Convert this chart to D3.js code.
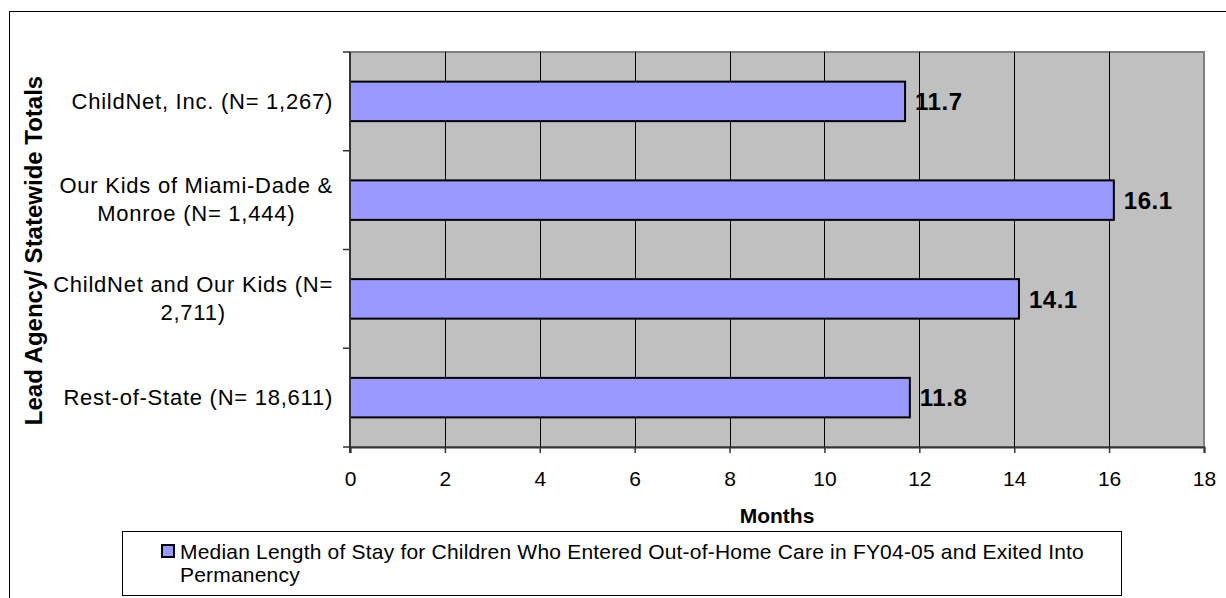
<!DOCTYPE html>
<html>
<head>
<meta charset="utf-8">
<script src="https://cdn.jsdelivr.net/npm/d3@7"></script>
<style>
  html, body { margin: 0; padding: 0; background: #fff; }
  svg { display: block; font-family: Arial, "Liberation Sans", sans-serif; }
</style>
</head>
<body>
<svg id="chart" width="1226" height="598"></svg>
<script>
// Median length of stay by lead agency
const categories = [
  "ChildNet, Inc. (N= 1,267)",
  "Our Kids of Miami-Dade & Monroe (N= 1,444)",
  "ChildNet and Our Kids (N= 2,711)",
  "Rest-of-State (N= 18,611)"
];
const medianMonths = [11.7, 16.1, 14.1, 11.8];
const xTicks = [0, 2, 4, 6, 8, 10, 12, 14, 16, 18];
const seriesName = "Median Length of Stay for Children Who Entered Out-of-Home Care in FY04-05 and Exited Into Permanency";
const xTitle = "Months";
const yTitle = "Lead Agency/ Statewide Totals";

const svg = d3.select("#chart");
const plot = { left: 350, right: 1204, top: 52, bottom: 447 };

// outer chart frame
svg.append("rect")
  .attr("x", 9.5).attr("y", 11.5)
  .attr("width", 1240).attr("height", 620)
  .attr("fill", "#fff").attr("stroke", "#000").attr("stroke-width", 1);

const x = d3.scaleLinear().domain([0, 18]).range([plot.left, plot.right]);
const y = d3.scaleBand().domain(categories)
  .range([plot.top, plot.bottom])
  .paddingInner(0.6).paddingOuter(0.3);

// plot background
svg.append("rect")
  .attr("x", plot.left).attr("y", plot.top)
  .attr("width", plot.right - plot.left).attr("height", plot.bottom - plot.top)
  .attr("fill", "#C0C0C0").attr("stroke", "#808080").attr("stroke-width", 2);

// vertical gridlines
svg.append("g")
  .selectAll("line")
  .data(xTicks.filter(d => d > 0 && d < 18))
  .join("line")
  .attr("x1", d => Math.round(x(d)) + 0.5).attr("x2", d => Math.round(x(d)) + 0.5)
  .attr("y1", plot.top).attr("y2", plot.bottom)
  .attr("stroke", "#000").attr("stroke-width", 1);

// bars
svg.append("g")
  .selectAll("rect")
  .data(categories)
  .join("rect")
  .attr("x", x(0))
  .attr("y", d => y(d))
  .attr("width", (d, i) => x(medianMonths[i]) - x(0))
  .attr("height", y.bandwidth())
  .attr("fill", "#9999FF")
  .attr("stroke", "#000")
  .attr("stroke-width", 2);

// value labels
svg.append("g")
  .selectAll("text")
  .data(categories)
  .join("text")
  .attr("x", (d, i) => x(medianMonths[i]) + 10)
  .attr("y", d => y(d) + y.bandwidth() / 2)
  .attr("dy", "0.36em")
  .attr("font-size", 24)
  .attr("font-weight", "bold")
  .attr("letter-spacing", 0.5)
  .attr("fill", "#000")
  .text((d, i) => medianMonths[i].toFixed(1));

// x axis
const xAxis = svg.append("g")
  .attr("transform", `translate(0,${plot.bottom})`)
  .call(d3.axisBottom(x).tickValues(xTicks).tickSize(6).tickPadding(18).tickFormat(d3.format("d")));
xAxis.select(".domain").attr("stroke", "#333").attr("stroke-width", 2);
xAxis.selectAll(".tick line").attr("stroke", "#333").attr("stroke-width", 1.5);
xAxis.selectAll("text").attr("font-size", 21).attr("fill", "#000")
  .attr("font-family", "Arial, 'Liberation Sans', sans-serif");

// y axis: ticks at category boundaries
const yAxisG = svg.append("g");
yAxisG.append("line")
  .attr("x1", plot.left).attr("x2", plot.left)
  .attr("y1", plot.top).attr("y2", plot.bottom + 6)
  .attr("stroke", "#333").attr("stroke-width", 2);
yAxisG.selectAll("line.tick")
  .data(d3.range(categories.length + 1))
  .join("line")
  .attr("class", "tick")
  .attr("x1", plot.left - 7).attr("x2", plot.left)
  .attr("y1", i => y.range()[0] + i * y.step())
  .attr("y2", i => y.range()[0] + i * y.step())
  .attr("stroke", "#333").attr("stroke-width", 1.5);

// wraps a string into lines no wider than maxW
function wrapLines(str, maxW, size, spacing, weight) {
  const probe = svg.append("text").attr("font-size", size)
    .attr("letter-spacing", spacing || 0).attr("font-weight", weight || "normal");
  const words = str.split(" ");
  const lines = [];
  let cur = "";
  for (const w of words) {
    const test = cur ? cur + " " + w : w;
    probe.text(test);
    if (probe.node().getComputedTextLength() > maxW && cur) {
      lines.push(cur);
      cur = w;
    } else cur = test;
  }
  if (cur) lines.push(cur);
  probe.remove();
  return lines;
}

// category labels, centered lines right-aligned as a block
const catSize = 22, catSpacing = 0.75, catLine = 28, catRight = 333;
categories.forEach(c => {
  const lines = wrapLines(c, 300, catSize, catSpacing);
  const probe = svg.append("text").attr("font-size", catSize).attr("letter-spacing", catSpacing);
  const widths = lines.map(l => { probe.text(l); return probe.node().getComputedTextLength(); });
  probe.remove();
  const blockW = d3.max(widths);
  const cx = catRight - blockW / 2;
  const cy = y(c) + y.bandwidth() / 2;
  const t = svg.append("text")
    .attr("font-size", catSize).attr("letter-spacing", catSpacing).attr("fill", "#000")
    .attr("text-anchor", "middle");
  lines.forEach((l, i) => {
    t.append("tspan")
      .attr("x", cx)
      .attr("y", cy + (i - (lines.length - 1) / 2) * catLine)
      .attr("dy", "0.33em")
      .text(l);
  });
});

// axis titles
svg.append("text")
  .attr("x", (plot.left + plot.right) / 2).attr("y", 523)
  .attr("text-anchor", "middle")
  .attr("font-size", 21).attr("font-weight", "bold")
  .text(xTitle);

svg.append("text")
  .attr("transform", `translate(42,${(plot.top + plot.bottom) / 2 + 1}) rotate(-90)`)
  .attr("text-anchor", "middle")
  .attr("font-size", 24).attr("font-weight", "bold")
  .text(yTitle);

// legend
const legend = svg.append("g");
legend.append("rect")
  .attr("x", 122.5).attr("y", 531.5).attr("width", 999).attr("height", 64)
  .attr("fill", "#fff").attr("stroke", "#000").attr("stroke-width", 1);
legend.append("rect")
  .attr("x", 162).attr("y", 545).attr("width", 12).attr("height", 12)
  .attr("fill", "#9999FF").attr("stroke", "#000").attr("stroke-width", 2);
const legLines = wrapLines(seriesName, 930, 21, 0.2);
const lt = legend.append("text").attr("font-size", 21).attr("letter-spacing", 0.2).attr("fill", "#000");
legLines.forEach((l, i) => {
  lt.append("tspan").attr("x", 180).attr("y", 559 + i * 23).text(l);
});
</script>
</body>
</html>
